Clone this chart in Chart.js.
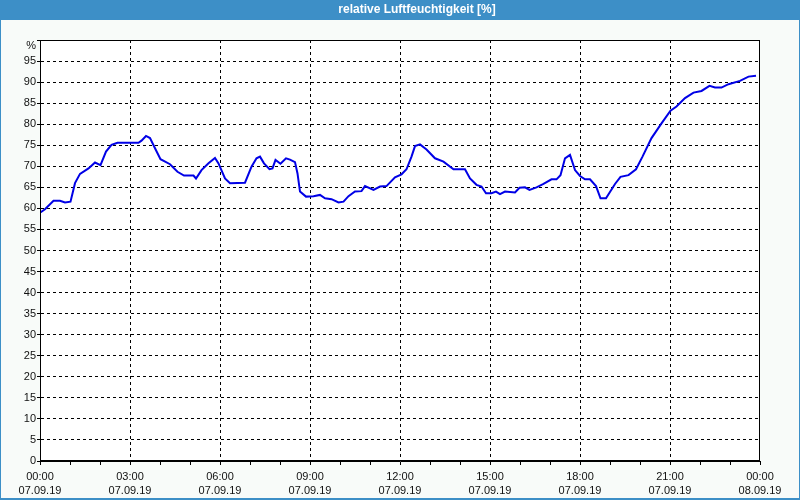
<!DOCTYPE html>
<html><head><meta charset="utf-8">
<script src="https://cdn.jsdelivr.net/npm/chart.js@4.4.1/dist/chart.umd.min.js"></script>
<style>html,body{margin:0;padding:0;background:#fff}#wrap{width:800px;height:500px;position:relative}</style>
</head><body><div id="wrap"><canvas id="c" width="800" height="500"></canvas></div>
<script>
const chartTitle = "relative Luftfeuchtigkeit [%]";
const yTopLabel = "%";
// minutes since 07.09.19 00:00
const timesMin = [0,10,27,40,50,61,70,80,97,110,121,132,143,155,197,203,212,220,230,241,260,275,288,307,312,323,337,350,357,370,380,410,423,433,440,448,459,465,471,481,492,500,510,515,520,532,547,560,570,583,597,607,617,630,643,650,667,680,693,710,723,733,743,750,760,773,790,807,827,850,860,873,883,892,903,912,920,930,950,959,970,979,993,1007,1023,1033,1041,1050,1060,1070,1080,1090,1100,1112,1121,1132,1150,1161,1177,1192,1205,1223,1243,1261,1273,1290,1307,1323,1339,1350,1363,1377,1400,1417,1432];
const humidity = [59.0,59.8,61.8,61.8,61.4,61.6,66.0,68.2,69.5,70.9,70.3,73.5,75.1,75.6,75.6,76.1,77.2,76.7,74.3,71.7,70.5,68.7,67.8,67.8,67.1,69.1,70.7,72.0,70.7,67.1,66.0,66.1,69.9,71.9,72.3,70.7,69.3,69.5,71.5,70.6,71.9,71.6,71.0,68.3,64.0,62.8,62.9,63.2,62.4,62.2,61.4,61.6,62.9,64.0,64.1,65.3,64.4,65.2,65.3,67.4,68.1,69.3,72.3,74.8,75.2,74.0,71.9,71.1,69.3,69.3,67.1,65.6,65.2,63.6,63.6,64.0,63.4,64.0,63.8,64.9,65.0,64.4,65.0,65.8,66.9,66.9,67.9,71.9,72.7,69.1,67.7,66.9,66.9,65.3,62.4,62.4,65.8,67.5,67.9,69.3,72.3,76.7,80.2,83.2,84.2,86.2,87.5,87.9,89.1,88.7,88.7,89.5,90.3,91.3,91.5];
const hourLabels = ["00:00","03:00","06:00","09:00","12:00","15:00","18:00","21:00","00:00"];
const dateLabels = ["07.09.19","07.09.19","07.09.19","07.09.19","07.09.19","07.09.19","07.09.19","07.09.19","08.09.19"];

const FONT = {family:"'Liberation Sans', Arial, sans-serif", size:11, lineHeight:1.27};
const TXT = '#111';

const frame = {
  id:'frame',
  beforeDraw(chart){
    const c = chart.ctx, a = chart.chartArea;
    c.save();
    c.fillStyle = '#f8fbf9';
    c.fillRect(0,0,800,500);
    c.fillStyle = '#ffffff';
    c.fillRect(a.left,a.top,a.right-a.left,a.bottom-a.top);
    c.fillStyle = '#3d8fc7';
    c.fillRect(0,0,800,20);
    c.fillRect(0,0,1,500);
    c.fillRect(799,0,1,500);
    c.fillRect(0,498,800,2);
    c.fillStyle = '#ffffff';
    c.font = "bold 12px 'Liberation Sans', Arial, sans-serif";
    c.textAlign = 'center';
    c.textBaseline = 'middle';
    c.fillText(chartTitle, 417, 10);
    c.restore();
  },
  afterDraw(chart){
    const c = chart.ctx, a = chart.chartArea;
    c.save();
    c.strokeStyle = '#000';
    c.lineWidth = 1;
    c.strokeRect(Math.round(a.left)+0.5, Math.round(a.top)+0.5, Math.round(a.right-a.left)-1, Math.round(a.bottom-a.top)-1);
    c.fillStyle = TXT;
    c.font = "11px 'Liberation Sans', Arial, sans-serif";
    c.textAlign = 'right';
    c.textBaseline = 'middle';
    c.fillText(yTopLabel, a.left - 4, a.top + 6);
    c.restore();
  }
};

new Chart(document.getElementById('c'), {
  type:'line',
  data:{datasets:[{
    data: timesMin.map((t,i)=>({x:t,y:humidity[i]})),
    borderColor:'#0000e6', borderWidth:2, pointRadius:0, tension:0, fill:false
  }]},
  options:{
    responsive:false, animation:false, devicePixelRatio:1,
    layout:{padding:{top:40,right:40,left:0,bottom:0}},
    plugins:{legend:{display:false}, tooltip:{enabled:false}, title:{display:false}},
    scales:{
      x:{type:'linear', min:0, max:1440,
        ticks:{stepSize:60, autoSkip:false, maxRotation:0, minRotation:0, color:TXT, font:FONT, padding:5,
          callback:(v)=> (v%180===0) ? [hourLabels[v/180], dateLabels[v/180]] : ''},
        grid:{color: ctx => (ctx.tick && ctx.tick.value%180===0 && ctx.tick.value>0 && ctx.tick.value<1440) ? '#000' : 'rgba(0,0,0,0)',
          tickColor:'#000', tickBorderDash:[], tickLength:4, lineWidth:1},
        border:{color:'#000', width:1, dash:[3,3]},
        afterFit: s => { s.height = 39; }
      },
      y:{min:0, max:100,
        ticks:{stepSize:5, color:TXT, font:FONT, padding:1,
          callback:(v)=> v===100 ? '' : String(v)},
        grid:{color: ctx => (ctx.tick && ctx.tick.value>0 && ctx.tick.value<100) ? '#000' : 'rgba(0,0,0,0)',
          tickColor:'#000', tickBorderDash:[], tickLength:3, lineWidth:1},
        border:{color:'#000', width:1, dash:[3,3]},
        afterFit: s => { s.width = 40; }
      }
    }
  },
  plugins:[frame]
});
</script></body></html>
